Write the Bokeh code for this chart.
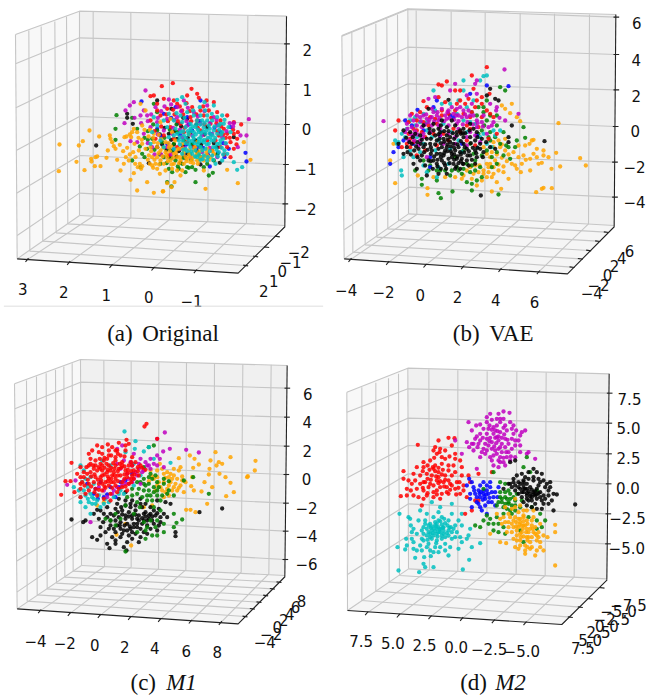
from bokeh.plotting import figure
from bokeh.models import Range1d
from bokeh.core.properties import value
from bokeh.embed import file_html
from bokeh.resources import INLINE

# ---- values: projected positions, in reference-crop units ----
a_black = [287,435,380,340,380,352,397,370,470,300,513,325,560,355,470,440,445,488,600,492,658,487,540,487,530,415,585,420,620,380,505,400,650,440,560,460,700,410,
 520,432,535,452,548,438,512,418,498,448,562,412,575,432,590,452,522,392,542,378,505,468,485,432,528,468,555,472,568,398,602,432,612,402,640,428,478,402,492,382,588,372,548,352]
a_blue = [423,303,490,340,525,320,560,350,628,498,738,483,735,457,685,445,672,470,630,400,590,440,690,380,530,370,470,385,600,300,500,430,550,465,575,390,660,395,
 512,352,538,402,565,372,622,462,642,382,668,428,652,458,598,362,558,432,482,408,518,448,608,442]
a_green = [348,344,345,385,345,418,395,352,410,385,425,460,432,470,440,445,460,310,470,335,500,545,513,558,585,545,625,525,637,517,610,500,575,500,565,502,545,490,525,480,490,470,505,445,520,430,485,425,455,415,470,390,530,395,550,420,575,430,600,440,640,480,650,462,395,480,420,500,515,515,560,500,480,490,600,470,
 442,418,462,448,478,462,498,488,512,472,532,498,548,472,572,478,592,462,515,452,492,412,508,388,528,372,458,372,442,392,418,438,432,412,568,462,585,508,555,515,535,505,505,505,620,490]
a_red = [517,248,484,257,573,265,460,285,450,287,490,295,470,310,530,310,560,285,590,280,595,292,618,300,640,305,650,335,680,345,700,365,722,372,712,395,700,400,710,415,690,425,680,440,700,445,690,470,660,440,645,420,630,370,600,330,575,320,545,330,520,300,500,325,480,345,470,330,450,360,510,380,540,370,570,350,590,360,610,345,625,330,660,360,670,385,680,400,655,405,550,395,520,415,490,405,600,390,620,420,580,440,530,440,505,465,560,425,635,450,465,415,
 548,342,568,332,588,342,608,318,522,342,502,362,482,378,462,392,532,362,552,382,572,362,592,382,612,372,632,352,648,368,662,378,676,412,668,402,688,412,698,388,708,432,672,462,650,392,498,342,538,318,558,308,518,328]
a_magenta = [435,270,400,305,388,315,375,330,372,368,420,345,440,345,430,330,465,320,505,297,530,320,550,300,580,335,620,315,745,356,738,405,700,368,720,405,712,440,675,430,650,375,640,350,600,370,560,375,530,350,500,355,470,365,450,380,490,390,515,400,545,410,575,405,605,405,635,400,665,410,410,425,390,422,430,400,455,440,500,440,540,445,570,470,605,455,650,470,
 482,332,512,312,492,318,452,342,472,352,442,362,422,368,402,352,522,358,542,332,562,322,592,348,612,332,628,368,648,358,688,368,698,378,678,392,518,382,538,388,558,362,472,402,442,428,462,462,512,462,552,442,628,442,482,462]
a_orange = [177,432,175,512,228,484,235,435,247,422,252,509,267,390,272,475,273,483,285,470,290,468,296,408,283,497,300,497,318,472,322,450,328,405,330,415,335,425,340,437,345,445,350,478,358,433,360,510,368,452,370,490,372,410,378,408,385,480,390,538,392,410,395,395,400,518,410,570,412,500,418,490,422,505,425,497,440,545,460,577,487,573,488,572,500,548,513,560,522,545,615,565,712,548,750,478,680,508,610,510,540,525,530,510,478,520,448,490,455,495,465,490,470,505,495,510,515,505,545,510,445,465,455,470,470,470,480,480,490,490,500,470,510,480,520,490,530,470,540,480,550,490,560,475,570,485,580,470,590,480,600,470,610,480,620,465,630,470,640,460,405,470,415,450,425,430,435,445,450,440,460,425,470,440,480,450,495,455,505,440,520,460,535,445,550,455,565,450,580,450,595,455,400,385,410,395,425,375,435,330,420,310,398,455,388,402,475,403,495,425,515,395,545,430,565,400,510,355,480,365,460,400,590,425,620,445,730,425,
 452,452,462,478,474,458,486,468,502,482,514,492,526,458,538,470,548,462,558,482,568,468,578,488,588,462,598,478,612,468,625,478,636,452,488,442,508,452,528,448,546,444,566,462,584,440,602,448,618,456,442,478,458,502,476,492,498,462,518,472,536,488,556,470,574,478,592,490,512,438,472,428,458,412,482,416,504,428,524,420,444,408,432,388,448,388,424,418,414,412,402,430,380,442,388,462,376,470,404,490]
a_cyan = [545,290,530,298,555,310,612,305,640,315,505,340,470,375,455,395,450,430,480,420,500,380,520,360,540,345,560,335,580,345,600,345,620,345,635,360,650,350,665,345,670,370,690,395,660,420,672,450,680,460,700,485,710,508,725,500,665,480,645,490,620,480,600,478,575,460,555,445,535,420,520,405,540,395,555,380,570,370,585,380,595,395,610,380,625,375,640,390,650,400,640,420,625,430,610,425,595,415,580,415,565,420,550,405,580,395,600,410,615,400,630,410,615,445,600,440,585,450,570,440,655,455,645,440,635,465,610,465,595,425,620,360,605,360,590,360,570,385,545,365,525,385,505,410,490,440,520,445,545,460,665,395,655,375,490,360,528,338,460,350,
 548,392,556,412,564,402,572,392,578,408,586,402,592,388,602,398,608,392,618,390,628,398,636,404,644,412,632,420,622,412,612,418,604,420,592,432,582,428,574,422,566,432,556,428,546,420,538,410,530,400,562,392,576,378,588,372,600,372,612,368,628,385,642,378,656,388,662,402,668,415,658,430,650,430,638,440,628,452,618,432,606,450,596,462,584,468,572,452,560,452,548,448,538,432,648,448,664,442,652,468,638,478,622,470,606,476,590,470,668,462,676,428,660,370,672,358,684,380,634,340,614,330,598,320,578,330,552,352]

b_orange = [215,548,705,368,770,473,787,495,638,575,655,565,660,562,685,563,312,563,312,583,505,573,533,565,200,480,210,430,283,525,330,530,420,525,430,510,450,520,465,515,480,510,495,515,510,520,525,510,540,515,555,535,505,530,490,530,475,540,460,555,520,545,575,495,565,490,580,505,592,515,620,510,645,490,684,505,710,498,698,457,660,450,660,465,625,420,630,418,618,430,605,435,600,465,620,475,585,470,545,450,530,440,510,440,525,420,545,415,535,315,545,325,565,310,580,350,590,362,560,338,500,470,515,480,490,490,480,440,585,435,640,445,
 505,455,520,462,535,472,550,482,540,498,525,492,510,500,495,500,480,520,468,495,555,462,570,455,490,460,535,432,510,425,500,490,455,495,440,500,445,535,415,535,395,530,365,530,595,490,607,478,640,470,675,470,655,487,630,460]
b_green = [295,535,295,553,345,578,352,593,387,573,445,570,525,582,340,540,380,525,415,520,430,545,445,550,460,540,475,530,505,500,520,490,560,475,575,440,600,380,605,412,580,420,555,440,530,430,500,420,530,260,545,270,490,300,480,320,460,345,490,360,475,390,500,395,520,375,455,480,430,490,400,500,350,510,320,495,300,480,440,430,420,450,395,470,
 475,465,490,450,505,470,520,455,540,465,548,435,515,410,495,410,482,375,465,400,450,460,470,500,455,510,440,515,420,505,405,510,385,510,365,510,340,510,445,495,540,395,500,345,465,320,480,335,520,345,315,510,275,510]
b_cyan = [233,510,235,525,480,227,420,240,330,270,430,320,215,420,220,430,235,400,260,360,250,385,300,340,335,330,380,310,450,300,490,225,510,390,515,405,490,430,530,390,455,370,340,530,300,495,240,470,260,450,420,270,470,240,280,410,310,390,360,370,420,360,345,420,380,445,405,420,430,395,470,410,385,395,335,450,300,430,
 445,335,405,300,355,310,275,350,245,410,225,425,270,470,290,455,325,410,355,395,400,340,440,365,480,400,505,440,460,440,415,455,375,490,345,500,310,515,275,375,290,365,310,365]
b_blue = [200,490,210,455,282,328,555,257,490,255,245,360,240,420,340,300,320,500,390,350,440,280,225,440,
 270,430,300,390,350,405,415,430,460,405,380,345,320,470,265,375,330,320]
b_red = [490,200,445,225,370,243,355,255,345,252,395,270,410,270,450,265,460,300,435,295,300,302,310,320,345,290,365,305,265,340,255,365,300,365,270,425,260,440,255,400,225,360,215,390,280,390,340,370,395,330,420,340,455,320,475,350,500,340,465,380,430,375,390,385,355,345,320,350,305,410,330,400,360,400,260,415,475,290,498,280,440,350,410,300,
 290,335,280,360,270,385,295,395,315,375,335,355,355,330,375,340,400,310,425,310,445,335,475,310,490,330,510,350,520,400,495,415,440,385,410,395,375,420,340,435,305,450,280,465,250,430,235,440,430,420,455,435]
b_magenta = [180,362,543,207,460,240,455,250,395,250,335,290,380,270,315,295,430,285,460,280,500,310,520,320,528,352,585,340,518,330,510,365,480,345,445,310,410,320,375,330,340,345,310,355,280,375,245,395,260,345,290,350,325,325,370,355,400,370,430,350,460,360,495,380,470,425,430,435,395,410,360,430,325,375,290,420,310,470,250,370,545,360,440,395,405,345,350,385,280,345,300,400,
 270,360,300,345,330,335,355,325,385,320,420,330,450,345,475,365,490,400,505,375,415,350,390,340,365,345,345,360,315,365,295,380,270,405,255,420,285,435,320,395,345,375,375,375,405,385,430,410,455,405,460,380,435,330,400,325,325,350,265,380,350,405,395,430,375,400,
 292,362,305,372,318,358,332,362,348,352,362,362,378,352,392,358,405,362,418,372,432,365,448,372,462,368,478,378,440,345,425,342,398,345,372,335,342,335,308,342,275,392,262,402,252,385,282,402,298,410,272,420]
b_black = [663,422,472,585,500,265,515,295,525,300,490,285,375,298,315,325,240,390,225,430,240,460,260,395,275,400,270,490,280,505,310,525,345,520,370,520,395,505,420,490,435,495,460,470,480,455,500,440,555,410,565,375,555,425,515,445,345,385,370,380,395,375,420,385,440,410,455,420,470,430,455,450,440,465,415,475,390,490,365,495,340,490,315,480,295,465,285,445,300,440,320,430,340,420,360,415,380,410,400,405,420,410,405,440,385,460,360,465,340,460,325,450,345,445,370,440,390,430,410,455,430,445,375,475,355,480,400,475,380,425,355,440,335,405,310,415,290,405,385,470,365,450,350,460,370,405,395,450,420,430,410,390,385,360,440,370,355,360,330,370,300,375,265,430,250,440,460,395,330,480,410,505,
 352,428,362,424,372,432,382,438,392,442,402,432,412,422,424,440,436,452,448,442,372,452,382,452,392,462,402,468,412,462,422,456,432,465,362,458,352,470,342,478,332,468,322,460,312,448,302,455,292,430,282,425,272,450,262,462,252,455,350,395,362,392,375,392,388,398,400,395,412,400,425,398,438,390,450,385,462,410,475,415,470,445,458,458,445,478,430,480,418,490,405,488,392,478,378,488,368,505,352,505,328,505,305,495,290,480,345,402,330,390,318,398,305,432,322,440,335,432,
 258,425,268,410,278,438,295,418,322,415,348,415,372,418,392,415,418,398,442,428,462,442,478,470,488,425,322,482,342,498,362,488,398,498,412,482,455,490,282,470,248,412,352,375,318,385]

c_orange = [765,331,763,360,740,380,742,377,700,425,677,437,690,397,675,380,690,320,665,340,655,335,648,345,645,305,630,330,627,355,625,372,612,395,603,423,580,420,572,407,575,380,578,352,595,342,568,315,582,325,557,478,570,478,585,485,620,460,635,410,657,370,535,323,540,350,520,375,505,380,490,370,478,340,450,360,470,380,490,395,510,395,530,385,545,390,555,395,540,405,530,420,550,425,520,410,500,415,485,420,470,405,460,385,480,410,505,435,490,440,455,465,430,470,348,553,392,585,375,520,290,465,310,455,
 495,382,510,370,525,400,515,385,535,412,505,405,475,395,465,420,495,425,515,420,545,378,535,360,520,355,485,355,470,360,455,378,445,392,500,365]
c_black = [665,474,597,485,213,507,248,515,255,510,525,545,525,557,327,593,345,580,290,568,275,560,315,545,345,545,380,575,378,600,420,560,440,550,470,540,480,515,510,460,495,455,490,490,465,495,450,490,430,510,410,520,390,535,370,540,350,525,330,510,310,490,295,505,280,490,300,530,325,535,355,500,375,505,395,505,415,495,435,485,455,510,440,525,420,535,400,520,380,520,360,515,340,495,320,470,345,475,365,480,385,485,405,480,425,470,395,450,375,450,355,445,405,550,385,555,360,560,500,500,475,475,420,445,390,470,375,425,350,460,330,490,410,505,445,505,360,535,335,560,430,490,470,450,
 365,492,375,495,385,498,395,495,405,493,415,510,425,503,435,498,445,495,460,480,470,488,480,500,455,498,440,510,425,520,410,530,400,530,388,528,372,525,358,525,345,510,330,525,320,500,308,515,300,480,290,478,352,485,362,470,375,465,390,460,405,465,420,460,435,460,450,470,380,540,395,545,430,545,450,535,460,520,475,525,340,535,365,550,345,570,320,580,300,555,415,575,395,565,370,590]
c_green = [375,603,435,565,545,507,528,517,520,530,490,545,465,530,435,540,410,545,480,480,460,470,440,450,460,425,430,420,445,400,470,395,490,400,500,430,520,435,480,450,410,430,395,415,410,395,430,385,450,370,330,510,315,505,520,490,625,430,550,390,578,380,460,285,445,290,430,350,375,465,345,490,470,510,430,515,400,490,418,470,450,435,470,420,
 420,395,435,405,455,385,475,410,460,410,445,420,425,440,440,435,455,450,410,455,395,435,380,440,485,435,505,420,470,435,430,400,415,415,445,380,465,375,490,385,505,392,450,510,470,555,455,555,440,530,490,520,345,525,360,505]
c_blue = [310,440,280,430,330,410,360,395,395,370,260,400,300,395,
 320,432,345,440,375,390,292,445,285,415,355,410]
c_cyan = [372,243,405,272,403,295,430,303,445,290,510,337,240,345,250,360,235,420,240,455,255,470,270,380,262,410,275,440,290,450,300,470,255,435,280,400,220,410,305,330,330,345,375,305,400,340,460,325,270,490,245,395,315,445,275,460,360,420,420,375,
 262,445,280,445,265,455,250,420,270,430,285,460,295,435,310,460,325,455,340,440,355,430,370,430,240,440,255,385,400,405]
c_magenta = [493,246,557,298,595,306,508,295,488,303,478,325,470,265,350,295,365,285,400,310,420,325,450,325,470,315,440,345,415,355,395,345,370,330,350,340,490,350,200,403,225,390,295,410,375,400,340,420,400,385,420,400,450,355,380,370,360,355,270,515,320,440,310,420,
 395,395,410,375,425,365,385,385,370,390,430,360,445,345,405,365,385,400,365,405,350,410,335,430,415,340,390,335,435,335,470,345,460,340]
c_red = [438,220,432,228,378,268,355,277,322,282,290,285,275,300,295,305,265,310,240,350,230,370,213,337,195,392,210,392,182,433,222,425,240,415,240,440,250,380,265,345,285,330,305,310,325,300,350,300,375,300,395,320,405,335,420,345,470,265,385,280,345,320,320,325,300,340,280,355,260,370,245,395,265,400,285,380,305,360,325,345,345,345,365,335,385,345,400,360,415,375,400,385,380,380,360,375,340,365,320,365,300,380,280,395,265,420,285,415,305,400,325,385,345,385,365,395,385,400,365,410,345,405,325,405,305,420,290,435,310,445,330,430,350,425,330,450,305,375,315,395,335,375,355,355,375,360,395,375,290,360,345,330,255,430,270,365,325,315,360,315,285,345,310,330,340,395,240,400,270,340,295,400,380,420,300,355,330,360,
 312,352,322,358,332,352,342,355,352,362,362,352,372,348,382,358,392,362,402,372,412,362,425,352,435,358,312,372,322,378,332,385,342,375,352,375,372,372,382,368,392,385,372,385,352,392,332,395,322,392,312,408,302,390,292,388,282,372,272,378,262,388,252,405,272,408,282,425,295,418,315,412,335,412,355,415,375,408,392,395,358,340,338,338,318,340,298,325,312,322,332,315,352,310,372,318,392,335,270,325,250,365,240,380,258,350,295,350,278,345,305,345,365,345,395,345,412,350,345,300,305,290,375,285,335,290]

d_cyan = [225,660,287,665,305,650,330,650,418,657,375,615,437,628,302,620,275,622,322,617,245,597,222,590,248,565,270,575,228,490,255,500,290,480,325,455,350,470,385,460,415,490,415,525,435,555,470,578,430,565,405,595,380,590,350,590,320,600,295,600,270,535,285,510,305,510,330,500,355,500,375,510,395,525,400,545,385,565,365,580,340,570,315,580,295,565,280,550,300,530,320,520,340,520,360,530,375,540,360,550,340,550,320,550,310,535,330,535,350,535,345,510,325,565,300,550,355,565,290,585,405,510,310,490,345,485,265,565,385,490,270,595,415,575,
 315,525,325,528,335,525,345,530,355,522,365,518,372,525,382,530,390,535,385,545,375,555,365,560,355,555,345,545,335,542,325,540,315,545,310,555,320,560,330,555,340,535,350,545,360,540,370,548,335,515,350,512,362,505,305,520,295,540,300,570,310,590,335,590,330,605,395,560,410,560,265,545,280,600,365,600,260,505,445,590,
 322,532,338,528,348,538,328,548,342,558,358,532,378,532,338,578,312,568,262,525,440,535,250,585,300,640,345,605]
d_red = [345,270,375,262,393,263,283,283,335,290,365,300,395,325,410,330,240,362,240,385,265,400,262,420,232,437,250,435,295,465,310,435,340,420,375,430,410,430,430,440,465,450,445,480,425,490,340,310,320,330,300,350,280,350,290,375,310,370,330,355,355,340,375,345,395,365,415,375,400,395,380,400,360,395,340,390,320,400,300,420,280,415,345,365,365,375,325,375,305,395,385,375,350,410,370,410,395,415,330,425,355,430,420,405,345,380,335,345,355,320,300,395,465,370,505,365,
 335,362,328,350,345,352,355,372,338,378,322,388,312,385,350,392,365,388,330,405,345,398,375,390,385,405,405,412,370,425,350,445,330,440,315,410,290,400,275,390,270,370,255,390,250,415,300,335,330,300,350,295,385,285,395,310,415,350,390,345,365,325,300,445,435,375,455,450,440,395,
 332,322,312,345,298,362,318,358,358,358,375,360,362,408,340,432,398,432,312,428,285,440,270,435,298,412,380,418,348,305,378,318,408,395,420,420]
d_magenta = [558,187,540,183,525,190,500,190,505,208,470,222,435,215,445,240,455,265,437,290,450,300,475,305,505,330,525,350,560,330,590,305,615,305,635,325,605,240,585,270,578,240,560,215,540,205,520,225,490,215,470,250,490,250,510,250,530,245,550,240,565,265,545,265,525,270,505,275,485,280,465,280,505,295,525,295,545,290,565,295,575,320,550,320,530,320,510,315,490,300,510,345,460,355,545,345,415,310,395,270,520,260,490,265,535,280,555,280,510,230,530,205,470,270,575,285,530,335,
 515,262,525,258,535,262,518,278,500,262,505,238,495,235,480,235,460,258,480,295,495,285,515,300,535,305,555,305,570,250,575,270,590,255,520,310,525,330,540,335,500,320,470,320,530,215,545,225,565,235,445,280,458,225,590,285,610,310,490,200,515,240,530,290,
 542,252,552,268,512,288,498,272,522,242,540,232,478,262,462,290,485,310,548,305,562,318,498,225,520,205,540,322,450,280,430,275,570,225,595,245]
d_blue = [437,385,430,405,450,410,440,445,445,470,465,460,490,490,515,465,522,440,505,425,525,410,500,395,480,395,465,420,480,420,495,430,485,445,470,440,480,430,495,455,510,440,460,455,490,405,455,430,475,480,
 482,438,490,420,472,425,488,432,478,448,498,442,468,430,460,440,505,455,452,420,515,425,485,465,470,470,440,430,500,410,470,405,445,395]
d_green = [510,365,530,395,545,400,555,420,530,440,540,470,560,480,520,500,490,495,480,510,470,530,495,520,510,520,455,525,480,415,610,320,600,350,620,365,640,420,625,470,650,490,665,510,655,530,600,575,590,540,525,545,545,550,555,460,575,450,590,470,575,480,550,445,535,455,560,430,545,440,520,465,
 555,455,565,465,575,465,560,445,570,440,545,460,535,445,525,455,580,430,595,450,550,475,565,490,540,490,525,520,510,540,540,530,640,510,640,535,615,500,500,505,530,425,545,425]
d_orange = [695,645,695,523,695,545,672,560,660,600,635,615,605,610,585,595,548,578,530,575,500,550,520,490,540,500,555,490,575,445,590,465,610,480,630,500,650,520,645,545,640,570,625,590,605,585,590,570,570,565,550,545,570,530,590,515,610,510,625,525,630,545,615,560,595,545,575,500,555,515,600,495,610,535,585,530,565,475,545,470,620,575,635,530,600,525,580,555,625,510,555,530,660,555,575,590,
 590,505,600,512,612,520,620,535,608,545,598,535,588,522,578,515,570,510,580,540,590,550,600,558,612,570,625,560,635,550,645,560,650,575,620,595,605,600,590,585,580,570,565,545,545,515,535,520,530,505,560,500,650,590,640,600,600,500,630,480,565,520,585,505,
 605,525,615,545,595,525,578,528,592,560,610,560,628,535,640,555,585,485,600,480,575,470,612,590]
d_black = [755,462,700,432,690,480,685,450,675,420,680,395,655,370,640,365,615,365,595,370,570,385,560,400,575,330,560,335,630,355,605,380,585,395,610,400,630,390,650,395,665,410,660,435,640,445,620,430,600,425,620,410,640,415,650,425,630,425,610,415,590,415,575,420,595,440,615,450,635,460,660,460,640,475,675,460,655,450,600,390,625,440,645,405,575,405,600,405,635,435,610,435,
 605,415,615,422,625,418,635,422,645,428,640,432,630,432,620,438,610,428,600,415,595,425,585,410,590,400,600,395,615,385,630,380,645,385,660,390,670,400,675,435,665,445,650,440,625,450,610,445,585,430,570,395,580,375,540,415,555,400,565,410,690,430,680,410,655,475,625,470,610,465,600,455]

# tick labels
a_xt = ["3","2","1","0","\u22121"]; a_yt = ["2","1","0","\u22121","\u22122"]; a_zt = ["2","1","0","\u22121","\u22122"]
b_xt = ["\u22124","\u22122","0","2","4","6"]; b_yt = ["6","4","2","0","\u22122","\u22124"]; b_zt = ["6","4","2","0","\u22122","\u22124"]
c_xt = ["\u22124","\u22122","0","2","4","6","8"]; c_yt = ["8","6","4","2","0","\u22122","\u22124"]; c_zt = ["6","4","2","0","\u22122","\u22124","\u22126"]
d_xt = ["7.5","5.0","2.5","0.0","\u22122.5","\u22125.0"]; d_yt = ["\u22127.5","\u22125.0","\u22122.5","0.0","2.5","5.0","7.5"]; d_zt = ["7.5","5.0","2.5","0.0","\u22122.5","\u22125.0"]

CMAP = {"orange":"#ffa500","green":"#008000","red":"#ff0000","cyan":"#00bfbf","magenta":"#bf00bf","blue":"#0000ff","black":"#000000"}

panels = [
 dict(name="a", off=(0,0),
  pane=[(45,102),(237,32),(858,47),(853,675),(237,645),(50,775),(713,818)],
  xg=[(278,34,278,647,80,778),(391,37,391,652,205,787),(507,40,507,657,332,796),(625,43,622,662,458,804),(742,45,738,667,585,812)],
  zg=[(45,190,237,112,858,130),(46,322,237,230,858,252),(47,450,237,348,858,372),(48,578,237,465,855,492),(50,705,237,578,853,610)],
  yg=[(85,90,88,752,735,795),(122,78,127,722,765,768),(163,63,167,697,798,740),(198,48,202,670,830,708)],
  xt=a_xt, xp=[(67,865),(190,875),(317,883),(445,890),(573,900)],
  yt=a_yt, yp=[(790,870),(820,840),(845,812),(870,785),(895,755)],
  zt=a_zt, zp=[(920,148),(920,268),(918,385),(915,505),(915,625)],
  layers=[("black",a_black),("blue",a_blue),("green",a_green),("red",a_red),("magenta",a_magenta),("orange",a_orange),("cyan",a_cyan)]),
 dict(name="b", off=(323,0),
  pane=[(55,105),(253,25),(877,42),(872,675),(255,640),(62,775),(732,820)],
  xg=[(278,30,280,642,80,778),(383,33,383,647,193,787),(485,36,484,652,305,795),(590,38,588,657,418,800),(693,40,692,662,530,808),(798,42,795,670,645,815)],
  zg=[(55,107,253,27,877,50),(57,228,253,140,877,162),(58,345,253,250,877,268),(60,460,253,352,875,378),(60,575,255,462,873,485),(62,688,255,560,873,590)],
  yg=[(85,95,88,755,745,800),(122,82,125,733,770,775),(157,70,160,710,795,750),(190,55,193,685,822,722),(222,42,225,660,848,695)],
  xt=b_xt, xp=[(68,868),(180,875),(290,882),(402,890),(517,897),(633,905)],
  yt=b_yt, yp=[(918,752),(895,772),(873,795),(852,822),(825,852),(805,878)],
  zt=b_zt, zp=[(940,68),(938,178),(938,285),(935,390),(933,498),(933,603)],
  layers=[("orange",b_orange),("green",b_green),("cyan",b_cyan),("blue",b_blue),("red",b_red),("magenta",b_magenta),("black",b_black)]),
 dict(name="c", off=(0,350),
  pane=[(42,100),(240,27),(860,45),(853,675),(243,645),(50,775),(713,820)],
  xg=[(310,30,312,648,118,782),(392,32,392,650,207,790),(475,35,474,655,297,796),(558,37,556,658,388,802),(642,39,640,662,478,808),(727,41,722,665,570,813),(812,43,805,670,660,817)],
  zg=[(43,175,240,95,859,113),(44,268,240,180,858,200),(45,358,240,262,857,287),(46,450,241,347,856,372),(47,540,241,428,855,458),(48,632,242,510,854,542),(49,725,243,593,853,627)],
  yg=[(78,90,80,752,733,798),(108,78,110,733,755,775),(137,68,140,715,775,755),(165,58,168,698,795,735),(190,48,193,680,815,715),(215,38,218,662,835,695)],
  xt=c_xt, xp=[(105,870),(193,877),(283,883),(373,888),(463,893),(557,900),(650,905)],
  yt=c_yt, yp=[(903,750),(885,770),(868,790),(850,808),(830,828),(812,850),(793,875)],
  zt=c_zt, zp=[(922,130),(920,215),(920,300),(918,385),(918,472),(918,557),(918,640)],
  layers=[("orange",c_orange),("black",c_black),("green",c_green),("blue",c_blue),("cyan",c_cyan),("magenta",c_magenta),("red",c_red)]),
 dict(name="d", off=(323,350),
  pane=[(70,125),(253,53),(857,70),(850,685),(255,655),(72,780),(715,822)],
  xg=[(316,57,318,658,130,788),(403,59,403,662,225,795),(491,62,490,665,320,800),(580,64,578,670,415,805),(668,66,665,675,510,812),(757,68,752,680,605,818)],
  zg=[(70,185,253,115,857,128),(70,285,253,203,856,218),(71,382,254,285,855,310),(71,480,254,370,854,400),(72,575,255,460,853,490),(72,672,255,555,852,580)],
  yg=[(115,110,115,750,740,800),(157,97,157,722,770,770),(195,83,197,695,800,745),(225,70,228,675,835,712)],
  xt=d_xt, xp=[(113,872),(208,877),(303,882),(398,888),(497,895),(595,902)],
  yt=d_yt, yp=[(915,762),(885,782),(865,805),(850,825),(825,845),(800,868),(778,892)],
  zt=d_zt, zp=[(918,145),(915,232),(915,323),(913,413),(912,503),(910,592)],
  layers=[("cyan",d_cyan),("red",d_red),("magenta",d_magenta),("blue",d_blue),("green",d_green),("orange",d_orange),("black",d_black)]),
]

p = figure(width=646, height=695, x_range=Range1d(0,646), y_range=Range1d(695,0),
           output_backend="svg", toolbar_location=None, min_border=0, outline_line_color=None)
p.xaxis.visible = False
p.yaxis.visible = False
p.grid.visible = False
p.background_fill_color = "white"
p.border_fill_color = "white"

GRID = "#c6c6c6"
FONT = value("DejaVu Sans")

for P in panels:
    n = P["name"]; ox, oy = P["off"]
    p.extra_x_ranges[n] = Range1d((0-ox)*3, (646-ox)*3)
    p.extra_y_ranges[n] = Range1d((695-oy)*3, (0-oy)*3)
    kw = dict(x_range_name=n, y_range_name=n)
    ot, it, rt, rb, ib, ob, fr = P["pane"]
    for poly, col in (([ot,it,ib,ob],"#f8f8f8"),([it,rt,rb,ib],"#f0f0f0"),([ob,ib,rb,fr],"#f5f5f5")):
        p.patch([q[0] for q in poly],[q[1] for q in poly],fill_color=col,line_color=None,**kw)
    xs, ys = [], []
    for g in P["xg"] + P["zg"] + P["yg"]:
        xs.append([g[0],g[2],g[4]]); ys.append([g[1],g[3],g[5]])
    xs += [[ot[0],it[0],rt[0]],[it[0],ib[0]],[ot[0],ob[0]],[ib[0],ob[0]],[ib[0],rb[0]]]
    ys += [[ot[1],it[1],rt[1]],[it[1],ib[1]],[ot[1],ob[1]],[ib[1],ob[1]],[ib[1],rb[1]]]
    p.multi_line(xs,ys,line_color=GRID,line_width=1.1,**kw)
    ax = [[ob[0],fr[0],rb[0]+1],[rt[0],rb[0]]]
    ay = [[ob[1],fr[1],rb[1]+3],[rt[1],rb[1]+3]]
    for g in P["xg"]:
        ax.append([g[4]+4,g[4]-5]); ay.append([g[5]-5,g[5]+6])
    for g in P["yg"]:
        ax.append([g[4]-7,g[4]+8]); ay.append([g[5]-1,g[5]+1])
    for g in P["zg"]:
        ax.append([g[4]-7,g[4]+10]); ay.append([g[5],g[5]])
    p.multi_line(ax,ay,line_color="#222222",line_width=1.1,**kw)
    for cname, flat in P["layers"]:
        p.scatter(flat[0::2],flat[1::2],size=4.3,fill_color=CMAP[cname],fill_alpha=0.85,line_color=None,**kw)
    for lab, pos in (("xt","xp"),("yt","yp"),("zt","zp")):
        p.text([q[0] for q in P[pos]],[q[1] for q in P[pos]],text=P[lab],text_font=FONT,text_font_size="15px",
               text_align="center",text_baseline="middle",text_color="#111111",**kw)

p.line([10,968],[917,917],line_color="#dedede",line_width=1,x_range_name="a",y_range_name="a")

SERIF = value("Liberation Serif")
caps = [("a",320,425,1000,"(a)","Original",False),("b",388,497,1000,"(b)","VAE",False),
        ("c",390,497,996,"(c)","M1",True),("d",410,515,996,"(d)","M2",True)]
for n,x1,x2,y,t1,t2,ital in caps:
    k = dict(text_font=SERIF,text_font_size="23px",text_align="left",text_baseline="middle",text_color="#111111",x_range_name=n,y_range_name=n)
    p.text([x1],[y],text=[t1],**k)
    p.text([x2],[y],text=[t2],text_font_style="italic" if ital else "normal",**k)

open("out.html","w").write(file_html(p, INLINE))
